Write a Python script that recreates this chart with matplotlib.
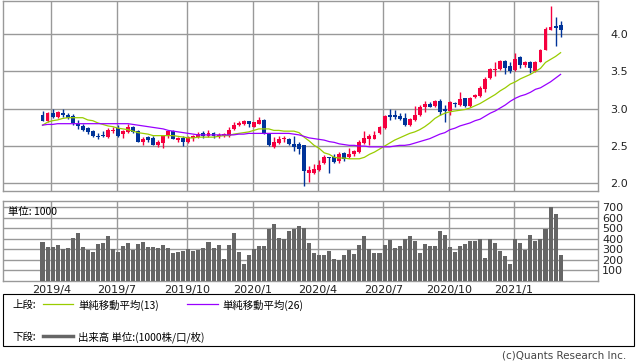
import numpy as np
import pandas as pd
import matplotlib
matplotlib.use("Agg")
import matplotlib.pyplot as plt
from matplotlib.lines import Line2D
from matplotlib.patches import Rectangle

plt.rcParams['font.family'] = ['DejaVu Sans', 'Noto Sans CJK JP']

# weekly candles (start 2019-03-18)
apertura = [2.91, 2.84, 2.94, 2.89, 2.94, 2.92, 2.90, 2.80, 2.77, 2.74,
            2.70, 2.64, 2.64, 2.62, 2.70, 2.74, 2.66, 2.69, 2.76, 2.70,
            2.55, 2.62, 2.61, 2.51, 2.54, 2.63, 2.70, 2.58, 2.61, 2.55,
            2.61, 2.62, 2.68, 2.64, 2.68, 2.64, 2.64, 2.64, 2.73, 2.78,
            2.79, 2.83, 2.76, 2.80, 2.85, 2.67, 2.49, 2.54, 2.59, 2.59,
            2.53, 2.53, 2.51, 2.14, 2.14, 2.18, 2.28, 2.35, 2.36, 2.30,
            2.41, 2.35, 2.39, 2.42, 2.54, 2.59, 2.60, 2.67, 2.74, 2.92,
            2.91, 2.90, 2.87, 2.78, 2.85, 2.91, 3.02, 3.07, 3.03, 3.10,
            2.99, 2.97, 3.07, 3.05, 3.14, 3.03, 3.16, 3.17, 3.27, 3.41,
            3.52, 3.53, 3.64, 3.57, 3.52, 3.69, 3.58, 3.63, 3.50, 3.63,
            3.79, 4.05, 4.11, 4.12]
alto = [2.97, 2.95, 2.99, 2.97, 2.99, 2.94, 2.93, 2.85, 2.79, 2.76,
        2.72, 2.68, 2.70, 2.74, 2.76, 2.78, 2.71, 2.80, 2.77, 2.72,
        2.62, 2.64, 2.64, 2.58, 2.64, 2.71, 2.71, 2.62, 2.64, 2.64,
        2.65, 2.69, 2.70, 2.72, 2.69, 2.67, 2.68, 2.75, 2.82, 2.84,
        2.85, 2.83, 2.82, 2.89, 2.86, 2.68, 2.62, 2.64, 2.63, 2.61,
        2.64, 2.55, 2.51, 2.24, 2.26, 2.32, 2.38, 2.36, 2.40, 2.42,
        2.42, 2.47, 2.45, 2.58, 2.70, 2.66, 2.70, 2.77, 2.91, 3.00,
        2.98, 2.94, 2.94, 2.88, 3.03, 3.05, 3.10, 3.09, 3.12, 3.13,
        3.05, 3.11, 3.09, 3.22, 3.15, 3.16, 3.20, 3.30, 3.42, 3.54,
        3.63, 3.65, 3.65, 3.63, 3.74, 3.70, 3.64, 3.64, 3.64, 3.80,
        4.09, 4.38, 4.23, 4.17]
bajo = [2.84, 2.82, 2.88, 2.88, 2.89, 2.86, 2.78, 2.73, 2.70, 2.66,
        2.62, 2.60, 2.62, 2.61, 2.67, 2.62, 2.61, 2.68, 2.68, 2.55,
        2.52, 2.55, 2.51, 2.49, 2.47, 2.61, 2.59, 2.56, 2.50, 2.54,
        2.57, 2.61, 2.61, 2.62, 2.61, 2.61, 2.62, 2.62, 2.72, 2.77,
        2.78, 2.76, 2.75, 2.79, 2.66, 2.50, 2.47, 2.53, 2.55, 2.51,
        2.44, 2.40, 1.96, 2.02, 2.13, 2.17, 2.26, 2.14, 2.28, 2.28,
        2.30, 2.34, 2.37, 2.41, 2.53, 2.52, 2.59, 2.66, 2.73, 2.85,
        2.86, 2.85, 2.77, 2.77, 2.84, 2.90, 2.95, 3.02, 3.02, 2.91,
        2.82, 2.92, 3.02, 3.04, 3.02, 3.02, 3.15, 3.16, 3.23, 3.40,
        3.44, 3.52, 3.47, 3.48, 3.51, 3.55, 3.56, 3.48, 3.49, 3.62,
        3.78, 4.05, 3.84, 3.96]
cierre = [2.84, 2.94, 2.89, 2.95, 2.91, 2.88, 2.81, 2.77, 2.72, 2.69,
          2.63, 2.62, 2.63, 2.71, 2.71, 2.64, 2.70, 2.76, 2.69, 2.56,
          2.59, 2.58, 2.52, 2.55, 2.63, 2.70, 2.60, 2.61, 2.55, 2.62,
          2.63, 2.66, 2.63, 2.68, 2.63, 2.65, 2.66, 2.72, 2.78, 2.81,
          2.83, 2.79, 2.82, 2.85, 2.67, 2.51, 2.55, 2.60, 2.61, 2.53,
          2.49, 2.46, 2.17, 2.18, 2.19, 2.25, 2.35, 2.34, 2.29, 2.39,
          2.33, 2.39, 2.43, 2.55, 2.61, 2.63, 2.65, 2.76, 2.90, 2.89,
          2.89, 2.86, 2.78, 2.86, 2.91, 3.02, 3.06, 3.02, 3.11, 2.96,
          2.97, 3.09, 3.06, 3.13, 3.03, 3.15, 3.18, 3.28, 3.40, 3.53,
          3.53, 3.64, 3.55, 3.50, 3.67, 3.58, 3.63, 3.55, 3.63, 3.79,
          4.07, 4.09, 4.08, 4.05]
media13 = [2.78, 2.82, 2.84, 2.85, 2.87, 2.88, 2.88, 2.88, 2.88, 2.85,
           2.84, 2.81, 2.79, 2.77, 2.76, 2.74, 2.73, 2.72, 2.70, 2.68,
           2.67, 2.66, 2.64, 2.64, 2.64, 2.64, 2.64, 2.63, 2.62, 2.61,
           2.61, 2.62, 2.62, 2.62, 2.62, 2.63, 2.64, 2.64, 2.66, 2.67,
           2.68, 2.69, 2.71, 2.73, 2.73, 2.73, 2.71, 2.71, 2.70, 2.70,
           2.70, 2.68, 2.62, 2.57, 2.51, 2.47, 2.41, 2.39, 2.35, 2.34,
           2.34, 2.33, 2.33, 2.33, 2.35, 2.39, 2.42, 2.46, 2.50, 2.54,
           2.58, 2.61, 2.64, 2.67, 2.69, 2.72, 2.76, 2.81, 2.87, 2.91,
           2.94, 2.96, 2.97, 2.98, 2.99, 3.01, 3.04, 3.07, 3.11, 3.15,
           3.19, 3.24, 3.28, 3.33, 3.36, 3.40, 3.43, 3.46, 3.50, 3.54,
           3.62, 3.66, 3.70, 3.75]
media26 = [2.78, 2.79, 2.79, 2.80, 2.80, 2.80, 2.80, 2.80, 2.80, 2.80,
           2.80, 2.80, 2.80, 2.80, 2.80, 2.80, 2.80, 2.80, 2.79, 2.78,
           2.77, 2.76, 2.75, 2.74, 2.73, 2.71, 2.70, 2.69, 2.68, 2.67,
           2.66, 2.65, 2.65, 2.65, 2.65, 2.65, 2.65, 2.65, 2.65, 2.66,
           2.66, 2.67, 2.67, 2.67, 2.67, 2.67, 2.67, 2.67, 2.67, 2.67,
           2.66, 2.65, 2.63, 2.61, 2.60, 2.59, 2.58, 2.56, 2.55, 2.53,
           2.52, 2.51, 2.51, 2.50, 2.50, 2.49, 2.49, 2.49, 2.49, 2.49,
           2.50, 2.51, 2.51, 2.52, 2.54, 2.56, 2.58, 2.60, 2.63, 2.66,
           2.68, 2.72, 2.74, 2.77, 2.79, 2.81, 2.84, 2.86, 2.90, 2.94,
           2.97, 3.01, 3.05, 3.10, 3.14, 3.17, 3.19, 3.22, 3.26, 3.28,
           3.32, 3.36, 3.41, 3.46]
volumen = [369, 321, 321, 340, 301, 311, 407, 458, 321, 292,
           272, 353, 362, 426, 301, 272, 330, 362, 295, 353,
           372, 321, 321, 311, 340, 311, 263, 276, 285, 301,
           285, 295, 311, 372, 311, 340, 205, 340, 458, 276,
           157, 244, 301, 330, 330, 497, 545, 407, 397, 478,
           497, 522, 503, 362, 263, 244, 244, 285, 205, 196,
           244, 295, 253, 340, 426, 301, 263, 263, 340, 388,
           311, 330, 397, 426, 378, 263, 349, 330, 330, 474,
           436, 321, 272, 330, 349, 378, 378, 397, 215, 397,
           359, 282, 234, 157, 397, 359, 292, 436, 378, 397,
           494, 705, 638, 244]
meses = ['2019-04', '2019-07', '2019-10', '2020-01', '2020-04', '2020-07', '2020-10', '2021-01']
etiquetas = ['2019/4', '2019/7', '2019/10', '2020/1', '2020/4', '2020/7', '2020/10', '2021/1']
niveles_precio = [2.0, 2.5, 3.0, 3.5, 4.0]
niveles_vol = [100, 200, 300, 400, 500, 600, 700]

ROJO = '#f5003f'
AZUL = '#003399'
VERDE = '#99cc00'
MORADO = '#9900ff'
GRIS = '#999999'

W, H = 638, 362
def caja(l, t, r, b):
    return [l / W, 1 - b / H, (r - l) / W, (b - t) / H]

fechas = pd.date_range('2019-03-18', periods=len(cierre), freq='7D')
x = np.arange(len(cierre))
pos_meses = [np.searchsorted(fechas, pd.Timestamp(m)) - 0.25 for m in meses]
x_min, x_max = (3 - 42.5) / 5.03, (598 - 42.5) / 5.03

fig = plt.figure(figsize=(6.38, 3.62), dpi=100)
ax = fig.add_axes(caja(3, 1, 598, 191))
axv = fig.add_axes(caja(3, 201, 598, 281))

o = np.array(apertura)
c = np.array(cierre)
colores = [ROJO if ci >= oi else AZUL for oi, ci in zip(o, c)]
ax.vlines(x, bajo, alto, colors=colores, linewidth=1, zorder=3)
ax.bar(x, np.maximum(np.abs(c - o), 0.012), bottom=np.minimum(o, c), width=0.78,
       color=colores, linewidth=0, zorder=4)
ax.plot(x, media13, color=VERDE, linewidth=0.9, zorder=5)
ax.plot(x, media26, color=MORADO, linewidth=0.9, zorder=5)

axv.bar(x, volumen, width=0.8, color='#666666', linewidth=0, zorder=3)

for a in (ax, axv):
    a.set_xlim(x_min, x_max)
    a.set_xticks(pos_meses)
    a.grid(True, color=GRIS, linewidth=1)
    a.set_axisbelow(True)
    for s in a.spines.values():
        s.set_color(GRIS)
        s.set_linewidth(1)
    a.yaxis.tick_right()
    a.tick_params(length=0, labelsize=8, colors='#222222')

ax.set_ylim(1.899, 4.442)
ax.set_yticks(niveles_precio)
ax.set_yticklabels([f'{v:.1f}' for v in niveles_precio])
ax.tick_params(axis='y', pad=9)
ax.set_xticklabels([])

axv.set_ylim(-3, 762)
axv.set_yticks(niveles_vol)
axv.tick_params(axis='y', pad=3, labelsize=8)
axv.set_xticklabels(etiquetas)
axv.tick_params(axis='x', pad=3)
axv.text(0.008, 0.93, '単位: 1000', transform=axv.transAxes, fontsize=7.5,
         va='top', ha='left', family=['Noto Sans CJK JP'])

# legend box
fig.add_artist(Rectangle((3 / W, 1 - 346 / H), 631 / W, 52 / H, transform=fig.transFigure,
                         fill=False, edgecolor='black', linewidth=0.8))
jp = ['Noto Sans CJK JP', 'DejaVu Sans']
fig.text(12 / W, 1 - 305 / H, '上段:', fontsize=7.5, va='center', family=jp)
fig.add_artist(Line2D([43 / W, 73 / W], [1 - 304 / H] * 2, color=VERDE, linewidth=0.9,
                      transform=fig.transFigure))
fig.text(78 / W, 1 - 305 / H, '単純移動平均(13)', fontsize=7.5, va='center', family=jp)
fig.add_artist(Line2D([187 / W, 218 / W], [1 - 304 / H] * 2, color=MORADO, linewidth=0.9,
                      transform=fig.transFigure))
fig.text(222 / W, 1 - 305 / H, '単純移動平均(26)', fontsize=7.5, va='center', family=jp)
fig.text(12 / W, 1 - 337 / H, '下段:', fontsize=7.5, va='center', family=jp)
fig.add_artist(Line2D([43 / W, 73 / W], [1 - 336 / H] * 2, color='#666666', linewidth=2.5,
                      transform=fig.transFigure))
fig.text(78 / W, 1 - 337 / H, '出来高 単位:(1000株/口/枚)', fontsize=7.5, va='center', family=jp)

fig.text(626 / W, 1 - 356 / H, '(c)Quants Research Inc.', fontsize=7.5, ha='right',
         va='center', color='#444444')

fig.savefig('out.png', dpi=100)
